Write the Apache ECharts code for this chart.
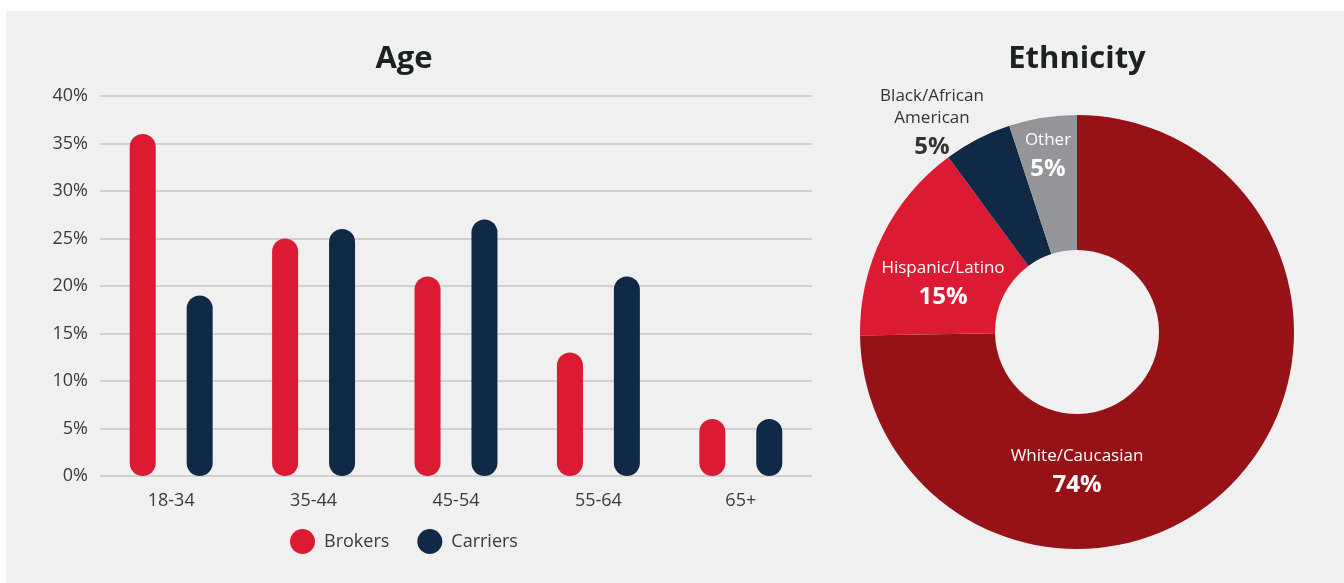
<!DOCTYPE html>
<html>
<head>
<meta charset="utf-8">
<script src="https://cdn.jsdelivr.net/npm/echarts@6/dist/echarts.min.js"></script>
<style>
  html, body { margin: 0; padding: 0; background: #ffffff; }
  #chart { width: 1344px; height: 583px; }
</style>
</head>
<body>
<div id="chart"></div>
<script>
// Age distribution (percent of respondents)
const ageCategories = ['18-34', '35-44', '45-54', '55-64', '65+'];
const brokersValues = [36, 25, 21, 13, 6];
const carriersValues = [19, 26, 27, 21, 6];
const ageSeriesNames = ['Brokers', 'Carriers'];

// Ethnicity breakdown (percent)
const ethnicityNames = ['White/Caucasian', 'Hispanic/Latino', 'Black/African\nAmerican', 'Other'];
const ethnicityValues = [74, 15, 5, 5];

const FONT = '"Open Sans", "Noto Sans", sans-serif';
const RED = '#dc1a33';
const NAVY = '#102a46';
const sliceColors = ['#961217', '#dc1a33', '#102a46', '#939598'];
const sliceTextColors = ['#ffffff', '#ffffff', '#333333', '#ffffff'];

// donut geometry and where each slice label sits relative to its centre
const pieCenter = [1077, 332];
const pieRadius = [82, 217];
const labelOffsets = [[0, 142], [-134, -46], [-145, -207], [-29, -174]];

const chart = echarts.init(document.getElementById('chart'), null, { renderer: 'canvas' });

chart.setOption({
  backgroundColor: '#ffffff',
  animation: false,
  textStyle: { fontFamily: FONT },
  graphic: [{
    type: 'rect',
    z: -10,
    shape: { x: 6, y: 11, width: 1338, height: 572 },
    style: { fill: '#f0f0f0' }
  }],
  title: [
    {
      text: 'Age', left: 399, top: 39, textAlign: 'center',
      textStyle: { fontFamily: FONT, fontSize: 31, fontWeight: 'bold', color: '#1b2220' }
    },
    {
      text: 'Ethnicity', left: 1072, top: 39, textAlign: 'center',
      textStyle: { fontFamily: FONT, fontSize: 31, fontWeight: 'bold', color: '#1b2220' }
    }
  ],
  legend: {
    data: ageSeriesNames,
    left: 285, top: 524,
    icon: 'circle',
    itemWidth: 25, itemHeight: 25,
    itemGap: 28,
    textStyle: { fontFamily: FONT, fontSize: 18, color: '#3a3a3a', padding: [0, 0, 0, 4] }
  },
  grid: { left: 100, right: 532, top: 96, bottom: 107, containLabel: false },
  xAxis: {
    type: 'category',
    data: ageCategories,
    axisLine: { show: false },
    axisTick: { show: false },
    axisLabel: { fontFamily: FONT, fontSize: 18, color: '#3a3a3a', margin: 16 }
  },
  yAxis: {
    type: 'value',
    min: 0, max: 40, interval: 5,
    axisLine: { show: false },
    axisTick: { show: false },
    axisLabel: { fontFamily: FONT, fontSize: 18, color: '#3a3a3a', margin: 12, formatter: '{value}%' },
    splitLine: { lineStyle: { color: '#d0d0d0', width: 2 } }
  },
  series: [
    {
      name: ageSeriesNames[0], type: 'bar', data: brokersValues,
      barWidth: 26, barGap: '119%',
      itemStyle: { color: RED, borderRadius: 13 }
    },
    {
      name: ageSeriesNames[1], type: 'bar', data: carriersValues,
      barWidth: 26, barGap: '119%',
      itemStyle: { color: NAVY, borderRadius: 13 }
    },
    {
      name: 'Ethnicity', type: 'pie',
      center: pieCenter, radius: pieRadius,
      startAngle: 90, clockwise: true,
      avoidLabelOverlap: false,
      labelLine: { show: false },
      emphasis: { disabled: true },
      data: ethnicityNames.map((n, i) => ({
        name: n,
        value: ethnicityValues[i],
        itemStyle: { color: sliceColors[i] },
        label: {
          rich: {
            n: { fontFamily: FONT, fontSize: 17, lineHeight: 22, color: sliceTextColors[i], align: 'center' },
            v: { fontFamily: FONT, fontSize: 24, fontWeight: 'bold', lineHeight: 36, color: sliceTextColors[i], align: 'center' }
          }
        }
      })),
      label: {
        show: true,
        position: 'inside',
        formatter: p => p.name.split('\n').map(s => '{n|' + s + '}').join('\n') + '\n{v|' + p.value + '%}'
      },
      labelLayout: p => ({
        x: pieCenter[0] + labelOffsets[p.dataIndex][0],
        y: pieCenter[1] + labelOffsets[p.dataIndex][1],
        align: 'center',
        verticalAlign: 'middle'
      })
    }
  ]
});
</script>
</body>
</html>
